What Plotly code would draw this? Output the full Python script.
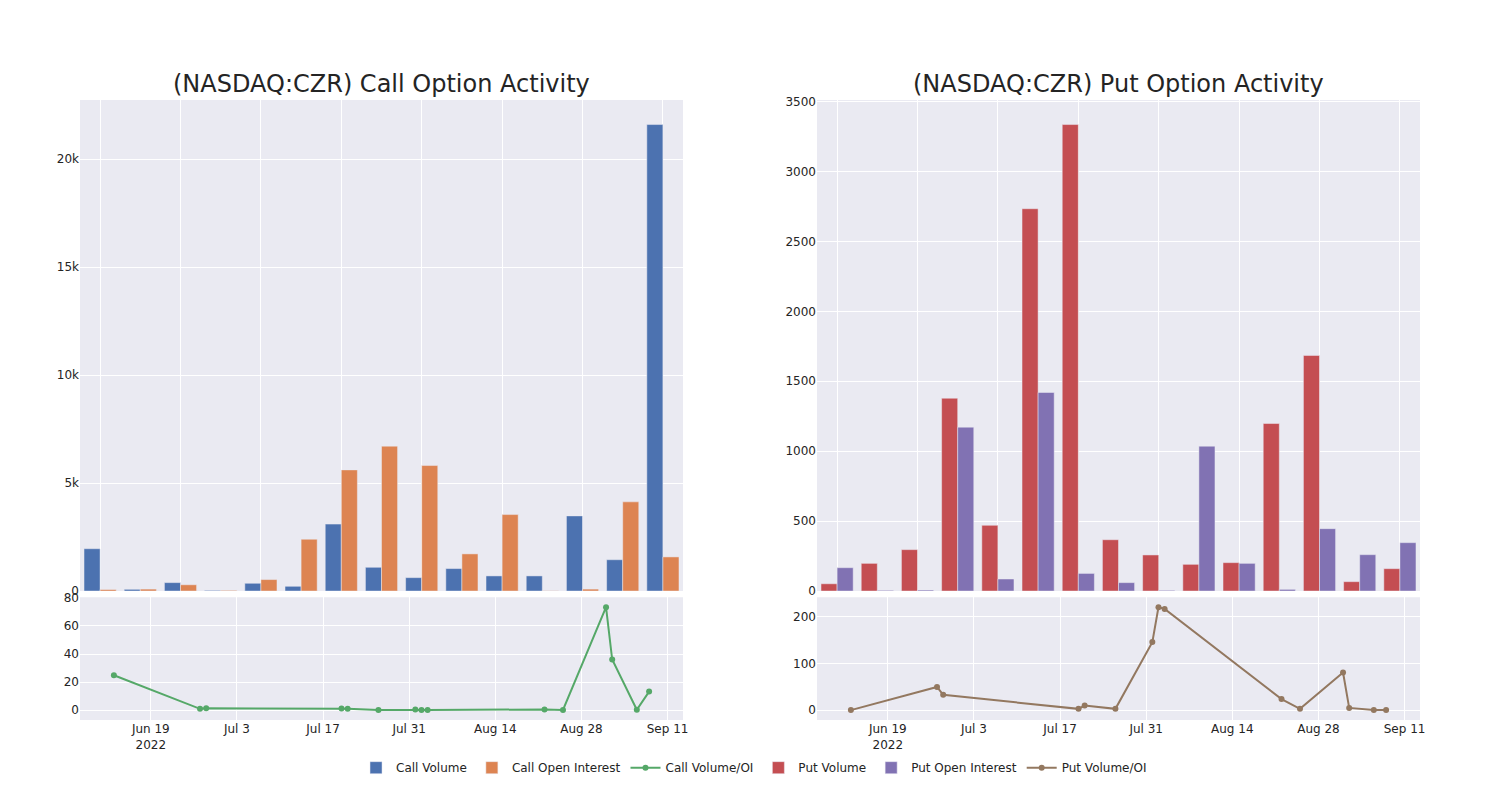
import plotly.graph_objects as go
from plotly.subplots import make_subplots

# ---- data ----
dates = ["2022-06-13", "2022-06-27", "2022-06-28", "2022-07-20", "2022-07-21",
         "2022-07-26", "2022-08-01", "2022-08-02", "2022-08-03", "2022-08-22",
         "2022-08-25", "2022-09-01", "2022-09-02", "2022-09-06", "2022-09-08"]

call_volume = [1960, 80, 390, 30, 360, 220, 3100, 1100, 620, 1040, 700, 700, 3480, 1450, 21600]
call_open_interest = [70, 90, 290, 30, 530, 2400, 5610, 6710, 5810, 1720, 3540, 10, 90, 4130, 1580]
call_vol_oi = [24.9, 1.0, 1.4, 1.2, 1.0, 0.1, 0.5, 0.2, 0.1, 0.6, 0.2, 73.4, 36.1, 0.4, 13.3]

put_volume = [52, 198, 296, 1379, 470, 2734, 3336, 367, 258, 191, 203, 1198, 1685, 67, 160]
put_open_interest = [167, 5, 7, 1172, 86, 1420, 126, 60, 5, 1036, 198, 12, 446, 260, 346]
put_vol_oi = [0.3, 50, 33, 3, 10, 3, 146, 221, 217, 24, 3, 81, 5, 0.7, 0.5]

title_call = "(NASDAQ:CZR) Call Option Activity"
title_put = "(NASDAQ:CZR) Put Option Activity"

idx = list(range(len(dates)))

fig = make_subplots(rows=2, cols=2, row_heights=[0.8, 0.2],
                    vertical_spacing=0.01, horizontal_spacing=0.1,
                    subplot_titles=(title_call, title_put, "", ""))

fig.add_trace(go.Bar(x=idx, y=call_volume, name="Call Volume"), row=1, col=1)
fig.add_trace(go.Bar(x=idx, y=call_open_interest, name="Call Open Interest"), row=1, col=1)
fig.add_trace(go.Scatter(x=dates, y=call_vol_oi, name="Call Volume/OI",
                         mode="lines+markers"), row=2, col=1)
fig.add_trace(go.Bar(x=idx, y=put_volume, name="Put Volume"), row=1, col=2)
fig.add_trace(go.Bar(x=idx, y=put_open_interest, name="Put Open Interest"), row=1, col=2)
fig.add_trace(go.Scatter(x=dates, y=put_vol_oi, name="Put Volume/OI",
                         mode="lines+markers"), row=2, col=2)

fig.update_layout(
    template="seaborn",
    width=1500, height=800,
    font=dict(family="DejaVu Sans"),
    legend=dict(orientation="h", x=0.503, xanchor="center", y=-0.0535, yanchor="top"),
)
fig.update_annotations(font_size=24)
fig.update_xaxes(showticklabels=False, row=1, col=1)
fig.update_xaxes(showticklabels=False, row=1, col=2)

fig.write_html("out.html")
